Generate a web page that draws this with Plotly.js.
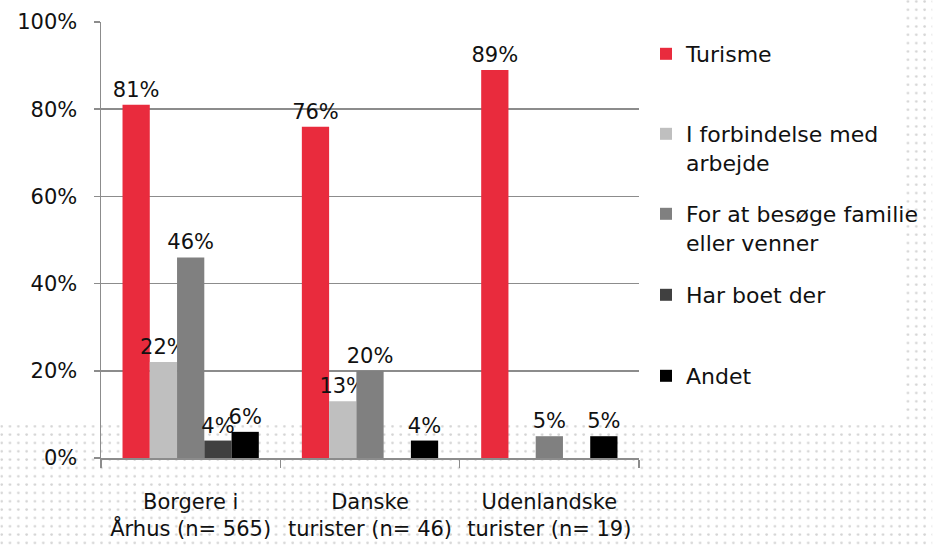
<!DOCTYPE html>
<html><head><meta charset="utf-8">
<script src="https://cdn.plot.ly/plotly-3.0.1.min.js"></script>
<style>html,body{margin:0;padding:0;background:#fff}#chart{width:934px;height:549px}</style>
</head><body><div id="chart"></div>
<script>
const categories = ["Borgere i<br>Århus (n= 565)", "Danske<br>turister (n= 46)", "Udenlandske<br>turister (n= 19)"];
const seriesNames = ["Turisme", "I forbindelse med<br>arbejde", "For at besøge familie<br>eller venner", "Har boet der", "Andet"];
const turisme = [81, 76, 89];
const arbejde = [22, 13, 0];
const familie = [46, 20, 5];
const harBoet = [4, 0, 0];
const andet = [6, 4, 5];
const yTickVals = [0, 20, 40, 60, 80, 100];
const yTickText = ["0%", "20%", "40%", "60%", "80%", "100%"];

const seriesValues = [turisme, arbejde, familie, harBoet, andet];
const colors = ["#E92B3D", "#BFBFBF", "#808080", "#404040", "#000000"];
const legendIds = ["legend", "legend2", "legend3", "legend4", "legend5"];

const FONT = "DejaVu Sans, sans-serif";

const traces = seriesValues.map((vals, i) => ({
  type: "bar",
  name: seriesNames[i],
  x: categories,
  y: vals,
  text: vals.map(v => v > 0 ? v + "%" : ""),
  textposition: "outside",
  constraintext: "none",
  cliponaxis: false,
  textfont: {family: FONT, size: 21, color: "#111"},
  marker: {color: colors[i], line: {width: 0}},
  legend: legendIds[i],
  hoverinfo: "skip"
}));

// decorative dotted background
const svg = '<svg xmlns="http://www.w3.org/2000/svg" width="934" height="549">' +
  '<defs><pattern id="p" width="8.33" height="8.33" patternUnits="userSpaceOnUse">' +
  '<circle cx="1.5" cy="1.5" r="1.3" fill="#d4d4d4"/></pattern></defs>' +
  '<rect x="0" y="425" width="934" height="124" fill="url(#p)"/>' +
  '<rect x="907" y="0" width="27" height="425" fill="url(#p)"/></svg>';
const imgSrc = "data:image/svg+xml;charset=utf-8," + encodeURIComponent(svg);

const L = 101, R = 294, T = 22, B = 91;
const PW = 934 - L - R, PH = 549 - T - B;
const px = x => (x - L) / PW;
const py = y => (549 - B - y) / PH;

const legendTops = [33, 113, 193, 274, 355];
const legendBase = {
  bgcolor: "rgba(0,0,0,0)", borderwidth: 0,
  font: {family: FONT, size: 22, color: "#111"},
  xanchor: "left", yanchor: "top", valign: "top",
  itemwidth: 30, tracegroupgap: 0
};
const layout = {
  width: 934, height: 549,
  margin: {l: L, r: R, t: T, b: B, pad: 0},
  paper_bgcolor: "rgba(255,255,255,1)",
  plot_bgcolor: "rgba(0,0,0,0)",
  barmode: "group",
  bargap: 0.24,
  bargroupgap: 0,
  showlegend: true,
  font: {family: FONT, size: 20, color: "#111"},
  xaxis: {
    type: "category",
    showline: true, linecolor: "#8c8c8c", linewidth: 1.5,
    ticks: "outside", tickson: "boundaries", ticklen: 8, tickcolor: "#8c8c8c", tickwidth: 1.5,
    showgrid: false, zeroline: false,
    tickangle: 0,
    tickfont: {family: FONT, size: 21, color: "#111"},
    ticklabelstandoff: 24,
    fixedrange: true
  },
  yaxis: {
    range: [0, 100],
    tickmode: "array",
    tickvals: yTickVals,
    ticktext: yTickText,
    showline: true, linecolor: "#8c8c8c", linewidth: 1.5,
    ticks: "outside", ticklen: 6, tickcolor: "#8c8c8c", tickwidth: 1.5,
    showgrid: true, gridcolor: "#8c8c8c", gridwidth: 1.5,
    zeroline: false,
    tickfont: {family: FONT, size: 21, color: "#111"},
    ticklabelstandoff: 12,
    fixedrange: true
  },
  images: [{
    source: imgSrc, xref: "paper", yref: "paper",
    x: px(0), y: py(0), sizex: 934 / PW, sizey: 549 / PH,
    xanchor: "left", yanchor: "top", sizing: "stretch", layer: "below"
  }]
};
legendIds.forEach((id, i) => {
  layout[id] = Object.assign({}, legendBase, {x: px(646), y: py(legendTops[i])});
});

Plotly.newPlot("chart", traces, layout, {displayModeBar: false, staticPlot: true});
</script>
</body></html>
